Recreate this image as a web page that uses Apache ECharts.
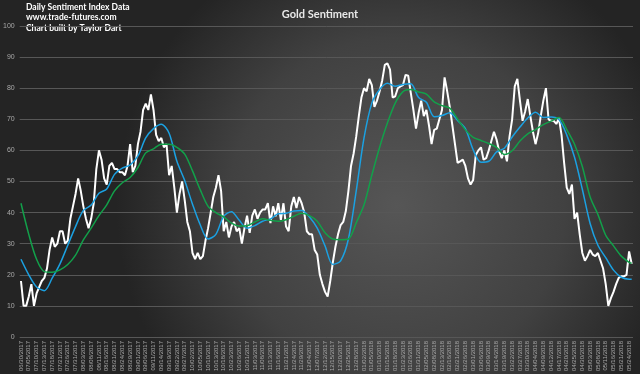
<!DOCTYPE html>
<html><head><meta charset="utf-8">
<script src="https://cdn.jsdelivr.net/npm/echarts@6/dist/echarts.min.js"></script>
<style>html,body{margin:0;padding:0;background:#2a2a2a}#c{width:640px;height:374px}</style>
</head><body><div id="c"></div>
<script>
// Categories: weekdays from 06/30/2017 for the number of daily readings
const startDate = [2017, 6, 30];
const sentiment = [
18,10,10,13,17,10,14,16,18,19,
22,28,32,29,30,34,34,30,31,38,
42,46,51,47,42,38,35,38,43,54,
60,57,51,49,55,56,54,54,53,53,
52,55,62,53,55,62,66,73,75,73,
78,73,65,63,64,61,62,52,55,48,
40,46,50,44,37,34,27,25,27,25,
26,31,35,40,45,48,52,47,34,37,
32,35.5,37,34,35,30,35,39,33.5,39,
41,38,40,41,41,43,36.6,42,38.8,43,
37.7,43,35.5,34,42,45,41.5,45,43,40,
34,33,33,28,26.5,20,17,14.5,13,18,
24,29,33,36,37,40.5,47,55,59,64.5,
71,77,80,79,83,81,74,76,79,82.5,
87.5,88,86,77,77.4,80,80.6,81,84.3,84,
78.5,73,67,72,76,71,73,68,62,66.6,
67,70,73,83.5,79,74,68,62,56,56.5,
57,55,51,49,50.5,58.5,60,61,57,57.5,
60,63,66,63.5,59.7,57.5,60,56.5,64.5,70,
80.6,83,76,69.5,72.5,76.5,71,66,62,65.5,
71,76,80,70,69.5,69.5,68.5,70.3,65,56,
48,46,49,38,40,33,27,24.5,26,28,
26.5,26,27,24.5,22,17,10,12.5,14.5,17,
19,19.5,19.5,20,27.5,23.5
];
// Moving averages, read every 3rd day: positions and values
const avgIdx = [0,3,6,9,12,15,18,21,24,27,30,33,36,39,42,45,48,51,54,57,60,63,66,69,72,75,78,
81,84,87,90,93,96,99,102,105,108,111,114,117,120,123,126,129,132,135,138,141,144,147,150,153,156,
159,162,165,168,171,174,177,180,183,186,189,192,195,198,201,204,207,210,213,216,219,222,225,228,231,234,235];
const fastAvg = [25,20,16.1,14.9,18.9,23.5,29.5,35.5,40.7,42.4,46.2,47.6,52.3,54.3,55.3,58.2,64,67,68.4,65.5,56.5,50.3,42.7,36,31.5,33,38.8,
40.3,37.5,35,35.8,37.2,38,39.6,39.8,40.5,40.7,38.6,35,29.3,23.3,24.5,31.5,47,64,75.2,79.6,81.6,80.6,81.2,81.4,77,75.5,
70.8,71.2,72.1,69.6,67,60.2,56.2,56.5,59.5,60.7,64.3,67.5,70.4,72.3,70.6,70.7,69.9,65,57.8,47.5,36.5,29.5,25.5,21.5,19.2,18.6,18.6];
const slowAvg = [43,33,25,21,20.8,21.6,23.3,26.3,31.2,35,39,42.5,47,49.6,51.3,54.5,59.2,60.5,62,62,61,58.8,53.4,47.3,42,40,38.6,
36.6,35.7,35.8,37,38,37.5,37.2,37.7,38.8,39.8,39,37.2,33.5,31.5,31.3,31.5,36.7,42.5,52,61,68.8,75.2,78.9,79.6,78.8,78.1,
75.6,74.4,73.6,70.1,66.6,64.2,63.2,62.2,61,58.7,59.9,63,65.3,66.7,68.3,69.4,70.6,66.7,62,54.8,45,39.4,32.7,29.3,26,24,23.7];
const yTicks = {min: 0, max: 100, step: 10};

const categories = [];
{
  const d = new Date(startDate[0], startDate[1]-1, startDate[2]);
  while (categories.length < sentiment.length) {
    const wd = d.getDay();
    if (wd !== 0 && wd !== 6) {
      const mm = String(d.getMonth()+1).padStart(2,'0');
      const dd = String(d.getDate()).padStart(2,'0');
      categories.push(mm + '/' + dd + '/' + d.getFullYear());
    }
    d.setDate(d.getDate()+1);
  }
}
function sparse(idx, vals) {
  const arr = new Array(sentiment.length).fill(null);
  idx.forEach((k, j) => { arr[k] = vals[j]; });
  return arr;
}
const chart = echarts.init(document.getElementById('c'));
chart.setOption({
  animation: false,
  backgroundColor: {
    type: 'radial', x: 0.62, y: 0.55, r: 0.75,
    colorStops: [{offset: 0, color: '#565656'}, {offset: 0.6, color: '#414141'}, {offset: 1, color: '#242424'}]
  },
  title: {
    text: 'Gold Sentiment', left: 'center', top: 4,
    textStyle: {color: '#e8e8e8', fontSize: 11, fontWeight: 'bold', fontFamily: 'Lato'}
  },
  graphic: [{
    type: 'text', left: 26, top: 2,
    style: {
      text: 'Daily Sentiment Index Data\nwww.trade-futures.com\nChart built by Taylor Dart',
      fill: '#ffffff', font: 'bold 8.5px Lato', lineHeight: 10.5
    }
  }],
  grid: {left: 18, right: 7, top: 26, bottom: 37},
  xAxis: {
    type: 'category', data: categories, boundaryGap: true,
    axisLine: {show: false}, axisTick: {show: false},
    axisLabel: {interval: 2, rotate: 90, color: '#a8a8a8', fontSize: 6, margin: 4, fontFamily: 'Liberation Sans'}
  },
  yAxis: {
    type: 'value', min: yTicks.min, max: yTicks.max, interval: yTicks.step,
    axisLine: {show: false}, axisTick: {show: false},
    axisLabel: {color: '#a8a8a8', fontSize: 7, margin: 5, fontFamily: 'Liberation Sans'},
    splitLine: {lineStyle: {color: '#575757', width: 1}}
  },
  series: [
    {type: 'line', data: sentiment, symbol: 'none', lineStyle: {color: '#ffffff', width: 2}, z: 2},
    {type: 'line', data: sparse(avgIdx, fastAvg), connectNulls: true, smooth: 0.3, symbol: 'none', lineStyle: {color: '#1ba1e2', width: 1.5}, z: 3},
    {type: 'line', data: sparse(avgIdx, slowAvg), connectNulls: true, smooth: 0.3, symbol: 'none', lineStyle: {color: '#12a04a', width: 1.5}, z: 3}
  ]
});
</script>
</body></html>
